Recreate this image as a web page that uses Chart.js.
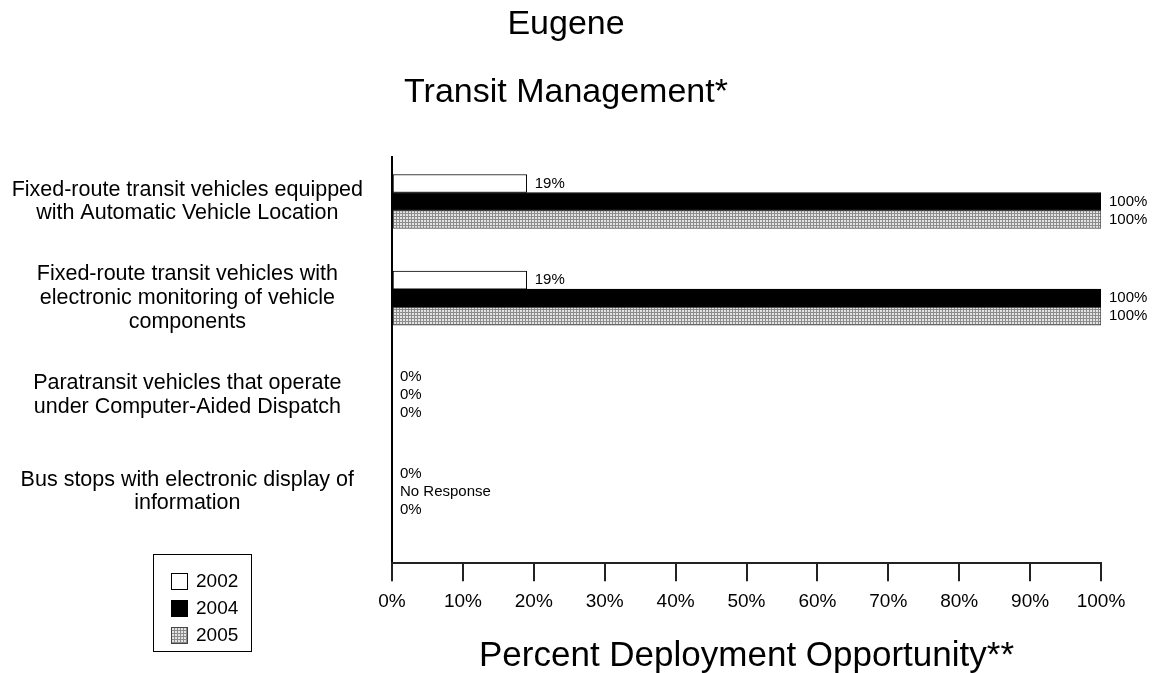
<!DOCTYPE html>
<html><head><meta charset="utf-8">
<script src="https://cdn.jsdelivr.net/npm/chart.js@4.4.0/dist/chart.umd.min.js"></script>
<style>html,body{margin:0;padding:0;background:#fff;}</style>
</head><body>
<canvas id="c" width="1153" height="673"></canvas>
<script>
// ---- data ----
const categories = [
  'Fixed-route transit vehicles equipped with Automatic Vehicle Location',
  'Fixed-route transit vehicles with electronic monitoring of vehicle components',
  'Paratransit vehicles that operate under Computer-Aided Dispatch',
  'Bus stops with electronic display of information'
];
const categoryLines = [
  ['Fixed-route transit vehicles equipped', 'with Automatic Vehicle Location'],
  ['Fixed-route transit vehicles with', 'electronic monitoring of vehicle', 'components'],
  ['Paratransit vehicles that operate', 'under Computer-Aided Dispatch'],
  ['Bus stops with electronic display of', 'information']
];
const seriesNames = ['2002', '2004', '2005'];
const values2002 = [19, 19, 0, 0];
const values2004 = [100, 100, 0, null];
const values2005 = [100, 100, 0, 0];
const xTickValues = [0, 10, 20, 30, 40, 50, 60, 70, 80, 90, 100];
const missingText = 'No Response';
const chartTitle = 'Eugene';
const chartSubtitle = 'Transit Management*';
const xAxisTitle = 'Percent Deployment Opportunity**';

// ---- styles ----
const FONT = '"Liberation Sans", Arial, sans-serif';
const BAR_T = 18;
const LEFT_PAD = 4;
const Y_AXIS_WIDTH = 388;

function makePattern() {
  const c = document.createElement('canvas'); c.width = 3; c.height = 3;
  const g = c.getContext('2d');
  g.fillStyle = '#e4e4e4'; g.fillRect(0, 0, 3, 3);
  g.fillStyle = '#8c8c8c'; g.fillRect(0, 0, 3, 1); g.fillRect(0, 0, 1, 3);
  return g.createPattern(c, 'repeat');
}
const pattern = makePattern();

const toPts = arr => arr.map((v, i) => ({ x: v, y: i }));

// shift the full-width title blocks so they centre like the original
const titleShift = {
  id: 'titleShift',
  afterLayout(chart) {
    chart.boxes.forEach(b => {
      if (b.options && b.options.position === 'top' && !b.axis) { b.left += 27; }
    });
  }
};

const valueLabels = {
  id: 'valueLabels',
  afterDatasetsDraw(chart) {
    const ctx = chart.ctx, xs = chart.scales.x, ys = chart.scales.y;
    ctx.save();
    ctx.font = '15px ' + FONT;
    ctx.fillStyle = '#000';
    ctx.textAlign = 'left';
    ctx.textBaseline = 'middle';
    const n = chart.data.datasets.length;
    chart.data.datasets.forEach((ds, di) => {
      const meta = chart.getDatasetMeta(di);
      ds.data.forEach((pt, i) => {
        const el = meta.data[i];
        const fallbackY = ys.getPixelForValue(i) + (di - (n - 1) / 2) * BAR_T;
        if (pt.x === null || pt.x === undefined) {
          const y = (el && isFinite(el.y)) ? el.y : fallbackY;
          ctx.fillText(missingText, xs.getPixelForValue(0) + 8, y);
        } else {
          ctx.fillText(pt.x + '%', el.x + 8, el.y);
        }
      });
    });
    ctx.restore();
  }
};

const boxLegend = {
  id: 'boxLegend',
  afterDraw(chart) {
    const ctx = chart.ctx;
    const left = 153, top = 554, w = 98, h = 97;
    ctx.save();
    ctx.strokeStyle = '#000'; ctx.lineWidth = 1;
    ctx.strokeRect(left + 0.5, top + 0.5, w, h);
    ctx.font = '19px ' + FONT;
    ctx.textBaseline = 'middle'; ctx.textAlign = 'left';
    chart.data.datasets.forEach((ds, i) => {
      const cy = top + 27 + i * 27;
      ctx.fillStyle = ds.backgroundColor;
      ctx.fillRect(171, cy - 8, 17, 17);
      ctx.strokeStyle = ds.borderColor;
      ctx.strokeRect(171.5, cy - 7.5, 16, 16);
      ctx.fillStyle = '#000';
      ctx.fillText(ds.label, 196, cy + 1);
    });
    ctx.restore();
  }
};

new Chart(document.getElementById('c'), {
  type: 'bar',
  data: {
    labels: categories,
    datasets: [
      { label: seriesNames[0], data: toPts(values2002), backgroundColor: '#ffffff', borderColor: '#000000', borderWidth: 1 },
      { label: seriesNames[1], data: toPts(values2004), backgroundColor: '#000000', borderColor: '#000000', borderWidth: 1 },
      { label: seriesNames[2], data: toPts(values2005), backgroundColor: pattern, borderColor: '#444444', borderWidth: 1 }
    ]
  },
  options: {
    responsive: false,
    animation: false,
    indexAxis: 'y',
    barThickness: BAR_T,
    borderSkipped: false,
    layout: { padding: { left: LEFT_PAD, right: 52, top: 0, bottom: 0 } },
    plugins: {
      legend: { display: false },
      tooltip: { enabled: false },
      title: { display: true, text: chartTitle, color: '#000', font: { family: FONT, size: 34, weight: 'normal', lineHeight: 1.2 }, padding: { top: 4, bottom: 26 } },
      subtitle: { display: true, text: chartSubtitle, color: '#000', font: { family: FONT, size: 34, weight: 'normal', lineHeight: 1.2 }, padding: { top: 1, bottom: 44 } }
    },
    scales: {
      y: {
        type: 'linear', reverse: true, offset: false, min: -0.465, max: 3.744,
        afterBuildTicks: s => { s.ticks = categories.map((c, i) => ({ value: i })); },
        afterFit: s => { s.width = Y_AXIS_WIDTH; },
        ticks: {
          autoSkip: false, crossAlign: 'center', padding: 21, color: '#000',
          font: { family: FONT, size: 21.5, lineHeight: 1.1 },
          callback: v => categoryLines[v] || ''
        },
        grid: { display: false },
        border: { display: true, color: '#000', width: 2 }
      },
      x: {
        type: 'linear', min: 0, max: 100,
        afterBuildTicks: s => { s.ticks = xTickValues.map(v => ({ value: v })); },
        ticks: { color: '#000', padding: 9, font: { family: FONT, size: 19 }, callback: v => v + '%', maxRotation: 0 },
        grid: { display: true, drawOnChartArea: false, drawTicks: true, tickLength: 18, color: '#222', lineWidth: 2 },
        border: { display: true, color: '#222', width: 2 },
        title: { display: true, text: xAxisTitle, color: '#000', font: { family: FONT, size: 35, lineHeight: 0.94 }, padding: { top: 18, bottom: 0 } }
      }
    }
  },
  plugins: [titleShift, valueLabels, boxLegend]
});
</script>
</body></html>
